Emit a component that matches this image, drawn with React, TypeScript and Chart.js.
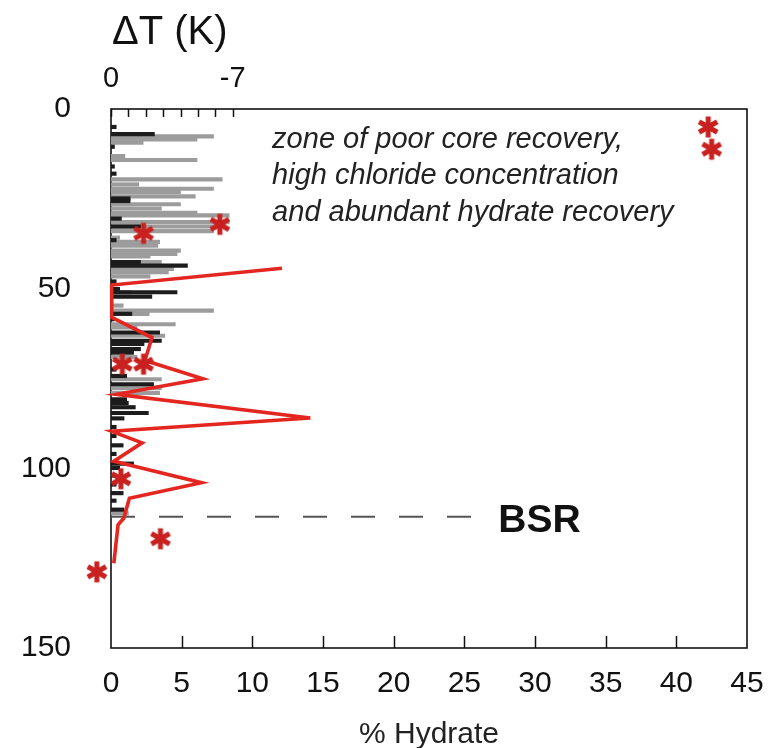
import React, { useEffect, useRef } from 'react';
import { Chart, registerables } from 'chart.js';

Chart.register(...registerables);

// ---------- data ----------
const depthTicks = [0, 50, 100, 150];
const hydrateTicks = [0, 5, 10, 15, 20, 25, 30, 35, 40, 45];
const deltaTTicks = [0, -1, -2, -3, -4, -5, -6, -7];
const deltaTLabelled = [0, -7];

// grey ΔT bars (depth m, ΔT K)
const grayDepths = [7.6, 8.5, 9.4, 13.1, 14.2, 19.6, 21.0, 22.2, 23.1, 24.3, 26.5, 27.7, 28.9, 29.6, 31.5, 32.7, 34.0, 35.8, 37.0, 38.0, 39.4, 40.3, 41.0, 42.6, 43.6, 44.5, 45.4, 46.6, 51.0, 54.7, 56.1, 57.0, 59.9, 60.8, 63.1, 69.0, 75.2, 77.6, 79.0, 112.5];
const grayDeltaT = [-5.9, -4.95, -1.85, -0.8, -4.95, -6.4, -1.6, -5.9, -4.0, -4.85, -4.0, -2.9, -4.95, -6.8, -6.8, -5.9, -5.9, -0.5, -2.8, -2.7, -4.0, -3.8, -2.25, -2.9, -2.4, -3.6, -3.3, -2.25, -1.2, -0.7, -5.9, -2.2, -3.7, -1.5, -3.1, -1.5, -2.9, -2.9, -2.8, -1.0];

// black ΔT bars
const blackDepths = [5.0, 7.0, 10.5, 16.0, 18.0, 24.9, 25.6, 30.5, 32.7, 36.5, 42.6, 43.6, 48.0, 50.1, 51.0, 52.2, 57.0, 58.5, 62.2, 64.5, 65.4, 66.8, 67.8, 72.5, 74.3, 76.6, 80.8, 81.8, 83.0, 84.6, 86.1, 88.5, 91.0, 93.6, 96.0, 98.7, 99.9, 102.0, 104.5, 106.9, 109.0, 111.5];
const blackDeltaT = [-0.3, -2.5, -0.2, -0.2, -0.3, -1.1, -1.1, -0.6, -1.7, -0.3, -1.7, -4.4, -0.3, -0.5, -3.8, -2.35, -1.2, -0.2, -2.8, -2.9, -1.9, -1.7, -1.3, -0.3, -0.9, -2.45, -0.9, -1.0, -1.4, -2.15, -0.75, -0.3, -0.3, -0.7, -0.3, -1.3, -0.5, -0.3, -0.3, -0.7, -0.3, -0.75];

// red % hydrate profile
const hydrateDepths = [44.3, 49.0, 58.0, 63.6, 70.0, 75.1, 79.4, 86.0, 89.7, 92.9, 98.0, 104.0, 108.3, 113.9, 115.7, 126.4];
const hydratePercent = [12.1, 0.05, 0.05, 2.9, 2.4, 6.5, 0.4, 14.1, 0.05, 2.2, 0.2, 6.4, 1.3, 0.9, 0.5, 0.2];

// red asterisks
const starDepths = [5.0, 11.2, 32.1, 34.6, 71.0, 71.0, 102.9, 119.6, 128.8];
const starHydrate = [42.25, 42.5, 7.7, 2.3, 0.8, 2.3, 0.7, 3.5, -1.0];

// BSR
const bsrDepth = 113.5;
const bsrHydrateRange = [0, 25.5];
const bsrLabel = 'BSR';

const annotationLines = [
  'zone of poor core recovery,',
  'high chloride concentration',
  'and abundant hydrate recovery',
];

const topTitle = 'ΔT (K)';
const bottomTitle = '% Hydrate';

const FONT = "'Liberation Sans', Arial, Helvetica, sans-serif";

function makeStar(): HTMLCanvasElement {
  const c = document.createElement('canvas');
  const s = 24;
  c.width = s;
  c.height = s;
  const g = c.getContext('2d')!;
  g.strokeStyle = '#c8211f';
  g.lineWidth = 5;
  g.lineCap = 'butt';
  const r = 10.5;
  for (let i = 0; i < 3; i++) {
    const a = Math.PI / 2 + (i * Math.PI) / 3;
    g.beginPath();
    g.moveTo(s / 2 + r * Math.cos(a), s / 2 + r * Math.sin(a));
    g.lineTo(s / 2 - r * Math.cos(a), s / 2 - r * Math.sin(a));
    g.stroke();
  }
  return c;
}

const decorPlugin = {
  id: 'decor',
  beforeDatasetsDraw(chart: any) {
    const { ctx, chartArea: a, scales } = chart;
    ctx.save();
    ctx.strokeStyle = '#111';
    ctx.lineWidth = 1.6;
    ctx.strokeRect(a.left, a.top, a.right - a.left, a.bottom - a.top);
    ctx.lineWidth = 1.5;
    for (const v of hydrateTicks) {
      if (v === hydrateTicks[0] || v === hydrateTicks[hydrateTicks.length - 1]) continue;
      const px = Math.round(scales.x.getPixelForValue(v)) + 0.5;
      ctx.beginPath();
      ctx.moveTo(px, a.bottom);
      ctx.lineTo(px, a.bottom - 12);
      ctx.stroke();
    }
    for (const v of deltaTTicks) {
      const px = Math.round(scales.xT.getPixelForValue(v)) + 0.5;
      ctx.beginPath();
      ctx.moveTo(px, a.top);
      ctx.lineTo(px, a.top + 8);
      ctx.stroke();
    }
    ctx.restore();
  },
  afterDatasetsDraw(chart: any) {
    const { ctx, scales } = chart;
    ctx.save();
    // top axis title
    ctx.fillStyle = '#111';
    ctx.font = `40px ${FONT}`;
    ctx.textBaseline = 'middle';
    ctx.textAlign = 'left';
    ctx.fillText(topTitle, scales.xT.getPixelForValue(0) + 1, 33);
    // annotation
    ctx.fillStyle = '#222';
    ctx.font = `italic 29px ${FONT}`;
    const annDepths = [8.7, 18.7, 28.8];
    annotationLines.forEach((t, i) => {
      ctx.fillText(t, scales.x.getPixelForValue(11.4), scales.y.getPixelForValue(annDepths[i]));
    });
    ctx.fillStyle = '#111';
    ctx.font = `bold 39px ${FONT}`;
    ctx.fillText(bsrLabel, scales.x.getPixelForValue(27.4), scales.y.getPixelForValue(114.8));
    ctx.restore();
  },
};

export default function App() {
  const ref = useRef<HTMLCanvasElement | null>(null);

  useEffect(() => {
    document.body.style.margin = '0';
    const canvas = ref.current!;
    const star = makeStar();

    const chart = new Chart(canvas, {
      type: 'scatter',
      data: {
        datasets: [
          {
            type: 'scatter',
            label: 'stars',
            xAxisID: 'x',
            yAxisID: 'y',
            data: starDepths.map((d, i) => ({ x: starHydrate[i], y: d })),
            pointStyle: star as any,
            pointRadius: 18,
            clip: false as any,
          },
          {
            type: 'line',
            label: 'hydrate',
            xAxisID: 'x',
            yAxisID: 'y',
            data: hydrateDepths.map((d, i) => ({ x: hydratePercent[i], y: d })),
            borderColor: '#e3261f',
            borderWidth: 3.6,
            pointRadius: 0,
            fill: false,
            tension: 0,
            clip: false as any,
          },
          {
            type: 'line',
            label: 'bsr',
            xAxisID: 'x',
            yAxisID: 'y',
            data: bsrHydrateRange.map((h) => ({ x: h, y: bsrDepth })),
            borderColor: '#555',
            borderWidth: 2,
            borderDash: [24, 24],
            pointRadius: 0,
            fill: false,
          },
          {
            type: 'bar',
            label: 'black',
            indexAxis: 'y',
            xAxisID: 'xT',
            yAxisID: 'y',
            grouped: false,
            data: blackDepths.map((d, i) => ({ x: blackDeltaT[i], y: d })),
            backgroundColor: '#1c1c1c',
            barThickness: 3.5,
          } as any,
          {
            type: 'bar',
            label: 'gray',
            indexAxis: 'y',
            xAxisID: 'xT',
            yAxisID: 'y',
            grouped: false,
            data: grayDepths.map((d, i) => ({ x: grayDeltaT[i], y: d })),
            backgroundColor: '#9c9c9c',
            barThickness: 3.5,
          } as any,
        ],
      },
      options: {
        animation: false,
        responsive: false,
        layout: { padding: { left: 0, right: 24, top: 0, bottom: 0 } },
        plugins: { legend: { display: false }, tooltip: { enabled: false } },
        scales: {
          x: {
            type: 'linear',
            position: 'bottom',
            min: 0,
            max: 45,
            offset: false,
            grid: { display: false, drawTicks: false },
            border: { display: false },
            afterBuildTicks: (s: any) => {
              s.ticks = hydrateTicks.map((v) => ({ value: v }));
            },
            ticks: {
              autoSkip: false,
              maxRotation: 0,
              padding: 18,
              color: '#111',
              font: { family: FONT, size: 30 },
            },
            title: {
              display: true,
              text: bottomTitle,
              color: '#222',
              font: { family: FONT, size: 30, lineHeight: 0.9 },
              padding: { top: 0, bottom: 0 },
            },
            afterFit: (s: any) => {
              s.height = 100;
              s.paddingLeft = 0;
              s.paddingRight = 0;
            },
          },
          xT: {
            type: 'linear',
            position: 'top',
            reverse: true,
            min: -36.6,
            max: 0,
            offset: false,
            grid: { display: false, drawTicks: false },
            border: { display: false },
            afterBuildTicks: (s: any) => {
              s.ticks = deltaTTicks.map((v) => ({ value: v }));
            },
            ticks: {
              autoSkip: false,
              maxRotation: 0,
              padding: 13,
              color: '#111',
              font: { family: FONT, size: 29 },
              callback: (v: any) => (deltaTLabelled.includes(Number(v)) ? String(v) : ''),
            },
            afterFit: (s: any) => {
              s.height = 109;
              s.paddingLeft = 0;
              s.paddingRight = 0;
            },
          },
          y: {
            type: 'linear',
            reverse: true,
            min: 0,
            max: 150,
            offset: false,
            grid: { display: false, drawTicks: false },
            border: { display: false },
            afterBuildTicks: (s: any) => {
              s.ticks = depthTicks.map((v) => ({ value: v }));
            },
            ticks: {
              autoSkip: false,
              padding: 40,
              color: '#111',
              font: { family: FONT, size: 30 },
            },
            afterFit: (s: any) => {
              s.width = 111;
              s.paddingTop = 0;
              s.paddingBottom = 0;
            },
          },
        } as any,
      },
      plugins: [decorPlugin],
    });

    return () => chart.destroy();
  }, []);

  return (
    <div style={{ width: 771, height: 748, background: '#fff' }}>
      <canvas ref={ref} width={771} height={748} style={{ display: 'block' }} />
    </div>
  );
}
